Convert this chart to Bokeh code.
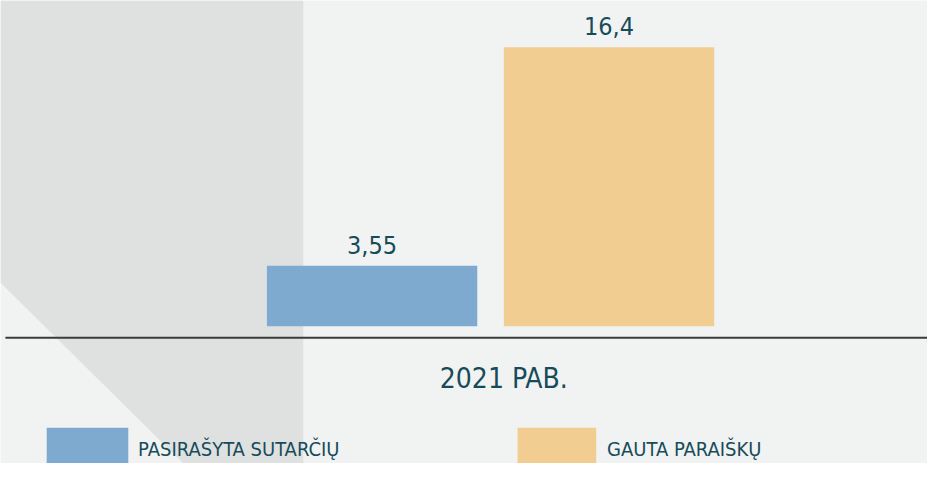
from bokeh.plotting import figure
from bokeh.models import Range1d
from bokeh.core.properties import value
from bokeh.embed import file_html
from bokeh.resources import INLINE

# ---- data ----
categories = ["PASIRAŠYTA SUTARČIŲ", "GAUTA PARAIŠKŲ"]
values = [3.55, 16.4]
colors = ["#7faacf", "#f2cd91"]
period_label = "2021 PAB."

# ---- layout helpers (reference pixel space -> data space) ----
REF_W, REF_H = 943, 479
W, H = 927, 463
X0, DX = 378.0, 241.0      # centre of first bar, bar spacing (ref px)
Y0, DY = 337.0, 17.6       # zero line (ref px), px per unit

def px2x(px):
    return (px - X0) / DX

def py2y(py):
    return (Y0 - py) / DY

FONT = value("'DejaVu Sans Condensed', 'Liberation Sans Narrow', sans-serif")
TEXT_COLOR = "#174b5a"
BG = "#f1f3f2"
SHAPE = "#dfe1e0"

p = figure(width=W, height=H, output_backend="svg", toolbar_location=None,
           x_range=Range1d(px2x(0), px2x(REF_W)), y_range=Range1d(py2y(REF_H), py2y(0)),
           min_border=0, background_fill_color=BG, border_fill_color=BG)
p.axis.visible = False
p.grid.visible = False
p.outline_line_color = None

# decorative background shape
p.patch(x=[px2x(v) for v in [0, 308, 308, 186, 0]],
        y=[py2y(v) for v in [0, 0, 479, 479, 292]],
        fill_color=SHAPE, line_color=None)

# bars
idx = list(range(len(values)))
p.vbar(x=idx, top=values, bottom=0, width=214 / DX, fill_color=colors, line_color=None)

# value labels (vertical centre of caps 21.5 ref px above bar top)
gap = 21.5 / DY
p.text(x=idx, y=[v + gap for v in values],
       text=[f"{v:g}".replace(".", ",") for v in values],
       text_font=FONT, text_font_size="25px", text_color=TEXT_COLOR,
       text_align="center", text_baseline="middle")

# baseline
p.segment(x0=[px2x(5)], y0=[py2y(349)], x1=[px2x(943)], y1=[py2y(349)],
          line_color="#3a3a3a", line_width=2)

# period label
p.text(x=[px2x(512)], y=[py2y(391)], text=[period_label],
       text_font=FONT, text_font_size="28px", text_color=TEXT_COLOR,
       text_align="center", text_baseline="middle")

# legend
sw_left = [47, 526]
sw_right = [130, 606]
txt_left = [140, 617]
p.quad(left=[px2x(v) for v in sw_left], right=[px2x(v) for v in sw_right],
       bottom=[py2y(485)] * 2, top=[py2y(442)] * 2,
       fill_color=colors, line_color=None)
p.text(x=[px2x(v) for v in txt_left], y=[py2y(464)] * 2, text=categories,
       text_font=FONT, text_font_size="20px", text_color=TEXT_COLOR,
       text_align="left", text_baseline="middle")

open("out.html", "w").write(file_html(p, INLINE))
